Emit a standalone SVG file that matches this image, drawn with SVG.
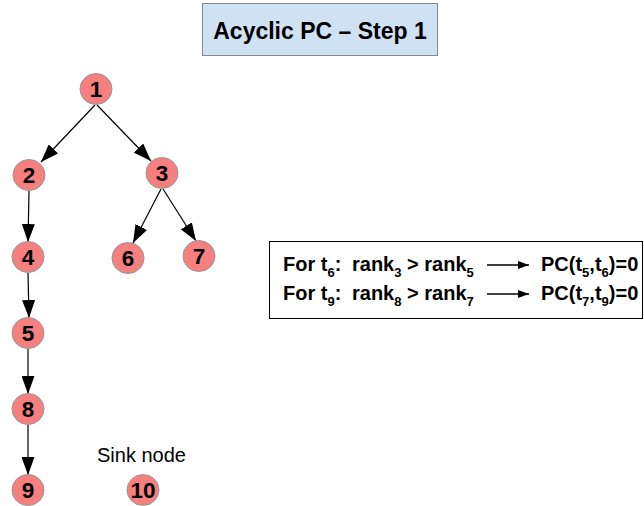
<svg xmlns="http://www.w3.org/2000/svg" width="644" height="506" viewBox="0 0 644 506">
<defs>
<style>
.node ellipse{fill:#f67f7f;stroke:#999;stroke-width:1}
.node text{font-family:"Liberation Sans",Arial,sans-serif;font-weight:bold;font-size:22.5px;text-anchor:middle;fill:#000}
.edge{stroke:#000;stroke-width:1.2;fill:none;marker-end:url(#ah)}
.t{font-family:"Liberation Sans",Arial,sans-serif;font-weight:bold;font-size:20px;fill:#000}
.s{font-size:13px}
</style>
<marker id="ah" markerUnits="userSpaceOnUse" markerWidth="19" markerHeight="13" refX="18" refY="6.5" orient="auto">
<path d="M0,0 L18,6.5 L0,13 z" fill="#000"/>
</marker>
<marker id="ah2" markerUnits="userSpaceOnUse" markerWidth="12" markerHeight="8" refX="11" refY="4" orient="auto">
<path d="M0,0 L11,4 L0,8 z" fill="#000"/>
</marker>
</defs>
<rect width="644" height="506" fill="#fff"/>
<g id="title">
<rect x="202.5" y="3.5" width="235" height="52" fill="#cfe2f3" stroke="#888" stroke-width="1"/>
<text x="320" y="39" font-family="Liberation Sans,Arial,sans-serif" font-weight="bold" font-size="23" text-anchor="middle">Acyclic PC – Step 1</text>
</g>
<g id="connectors">
<line class="edge" x1="95" y1="105" x2="41" y2="162"/>
<line class="edge" x1="97" y1="105" x2="151" y2="161"/>
<line class="edge" x1="161" y1="189" x2="133" y2="243"/>
<line class="edge" x1="163" y1="189" x2="196" y2="241"/>
<line class="edge" x1="29" y1="191" x2="28" y2="242"/>
<line class="edge" x1="28" y1="273" x2="29" y2="318"/>
<line class="edge" x1="28" y1="349" x2="28" y2="394"/>
<line class="edge" x1="28" y1="425" x2="28" y2="475"/>
</g>
<g id="n1" class="node"><ellipse cx="96" cy="89" rx="16" ry="15.5"/><text x="96" y="97">1</text></g>
<g id="n2" class="node"><ellipse cx="29" cy="175" rx="16" ry="15.5"/><text x="29" y="183">2</text></g>
<g id="n3" class="node"><ellipse cx="162" cy="173" rx="16" ry="15.5"/><text x="162" y="181">3</text></g>
<g id="n4" class="node"><ellipse cx="28" cy="257" rx="16" ry="15.5"/><text x="28" y="265">4</text></g>
<g id="n6" class="node"><ellipse cx="128" cy="258" rx="16" ry="15.5"/><text x="128" y="266">6</text></g>
<g id="n7" class="node"><ellipse cx="199" cy="256" rx="16" ry="15.5"/><text x="199" y="264">7</text></g>
<g id="n5" class="node"><ellipse cx="28" cy="333" rx="16" ry="15.5"/><text x="28" y="341">5</text></g>
<g id="n8" class="node"><ellipse cx="28" cy="409" rx="16" ry="15.5"/><text x="28" y="417">8</text></g>
<g id="n9" class="node"><ellipse cx="28" cy="490" rx="16" ry="15.5"/><text x="28" y="498">9</text></g>
<g id="n10" class="node"><ellipse cx="143" cy="490" rx="16" ry="15.5"/><text x="143" y="498">10</text></g>
<text id="sink-label" x="97" y="462" font-family="Liberation Sans,Arial,sans-serif" font-size="20">Sink node</text>
<g id="rules">
<rect x="269.5" y="241.5" width="373" height="77" fill="#fff" stroke="#000" stroke-width="1"/>
<text class="t" x="283" y="271">For t<tspan class="s" dy="6">6</tspan><tspan dy="-6">:</tspan></text>
<text class="t" x="352" y="271">rank<tspan class="s" dy="6">3</tspan><tspan dy="-6"> &gt; rank</tspan><tspan class="s" dy="6">5</tspan></text>
<line x1="487" y1="265" x2="529" y2="265" stroke="#000" stroke-width="1.5" marker-end="url(#ah2)"/>
<text class="t" x="541" y="271">PC(t<tspan class="s" dy="6">5</tspan><tspan dy="-6">,t</tspan><tspan class="s" dy="6">6</tspan><tspan dy="-6">)=0</tspan></text>
<text class="t" x="283" y="300">For t<tspan class="s" dy="6">9</tspan><tspan dy="-6">:</tspan></text>
<text class="t" x="352" y="300">rank<tspan class="s" dy="6">8</tspan><tspan dy="-6"> &gt; rank</tspan><tspan class="s" dy="6">7</tspan></text>
<line x1="487" y1="294" x2="529" y2="294" stroke="#000" stroke-width="1.5" marker-end="url(#ah2)"/>
<text class="t" x="541" y="300">PC(t<tspan class="s" dy="6">7</tspan><tspan dy="-6">,t</tspan><tspan class="s" dy="6">9</tspan><tspan dy="-6">)=0</tspan></text>
</g>
</svg>
